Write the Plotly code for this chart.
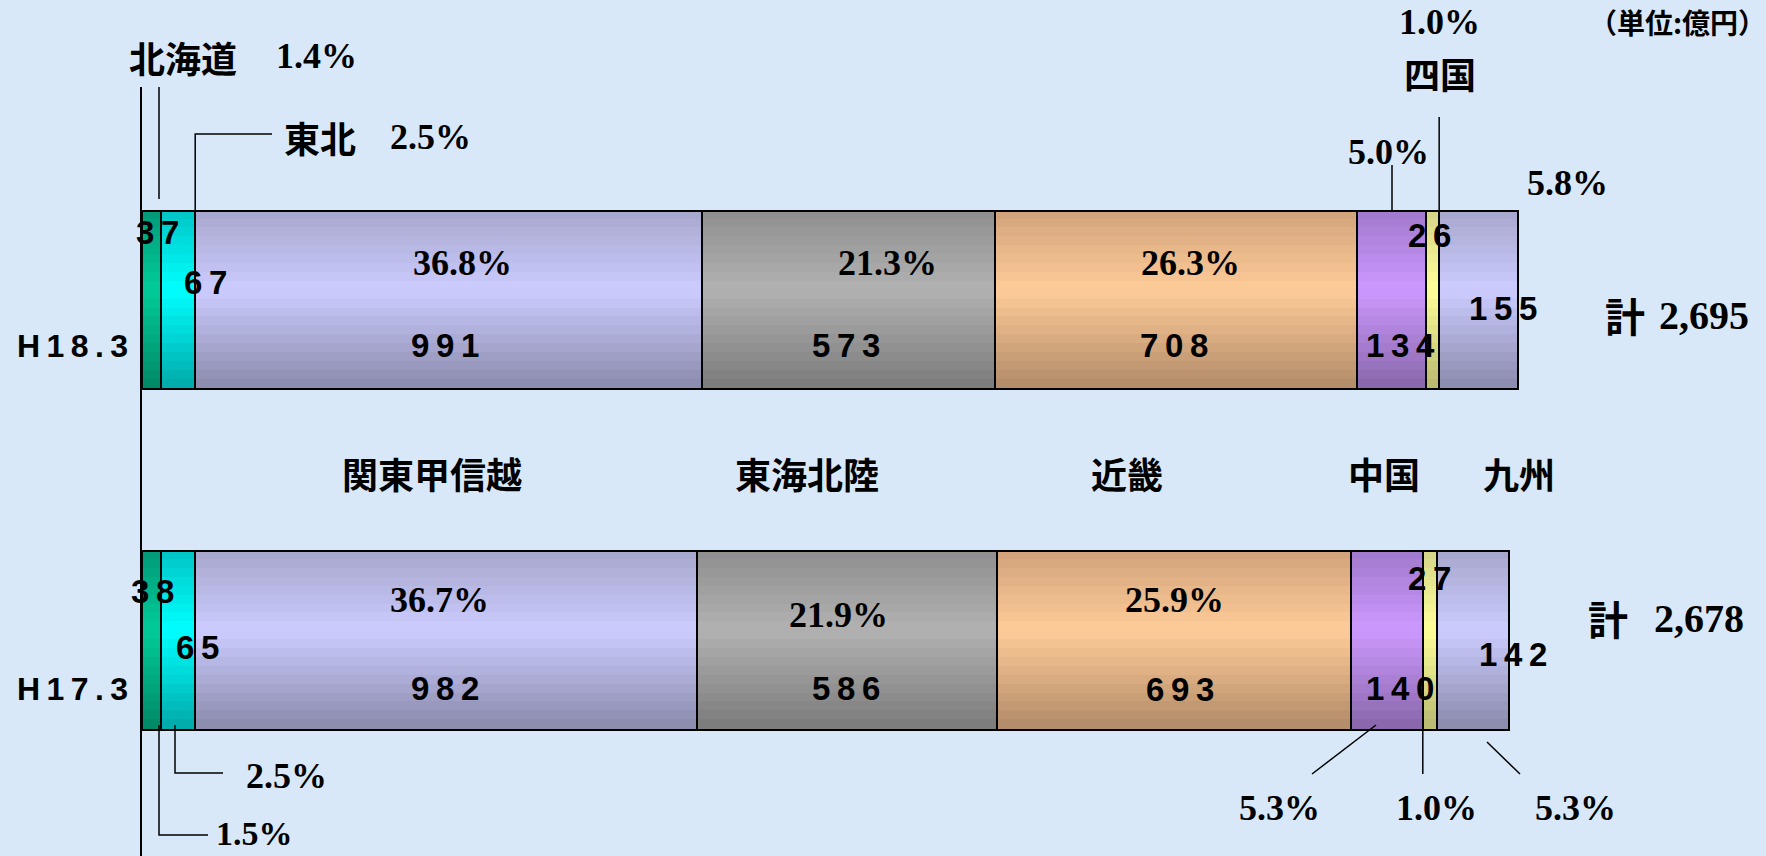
import plotly.graph_objects as go

# 地域別の金額(億円)と構成比
regions = ["北海道", "東北", "関東甲信越", "東海北陸", "近畿", "中国", "四国", "九州"]
years = ["H18.3", "H17.3"]
h18 = [37, 67, 991, 573, 708, 134, 26, 155]
h17 = [38, 65, 982, 586, 693, 140, 27, 142]
pct18 = ["1.4%", "2.5%", "36.8%", "21.3%", "26.3%", "5.0%", "1.0%", "5.8%"]
pct17 = ["1.5%", "2.5%", "36.7%", "21.9%", "25.9%", "5.3%", "1.0%", "5.3%"]
totals = ["2,695", "2,678"]
unit_label = "（単位:億円）"

# bar colours: top, middle, bottom (gradient like the original)
shades = [
    ("#009977", "#00cc99", "#008866"),
    ("#00c4c4", "#00ffff", "#00a8a8"),
    ("#a6a6cc", "#ccccff", "#8a8aac"),
    ("#8e8e8e", "#b2b2b2", "#7a7a7a"),
    ("#d0a27a", "#ffcc99", "#b08a68"),
    ("#a078cc", "#cc99ff", "#8866aa"),
    ("#d4d488", "#ffff99", "#b8b870"),
    ("#a6a6cc", "#ccccff", "#8a8aac"),
]

BG = "#d8e8f8"
CJK = "Noto Sans CJK JP"
SERIF = "Liberation Serif"
SANS = "Liberation Sans"

W, H = 1766, 856
ML, MT = 142, 87
XS = 0.5115          # pixels per 億円
Y18_PX, DY = 300.0, 340.5
BW = 0.523           # bar thickness in y units


def cum(vals):
    out, s = [], 0
    for v in vals:
        out.append(s)
        s += v
    return out


base18 = cum(h18)
base17 = cum(h17)
ypos = [1, 0]


def hex2rgb(h):
    h = h.lstrip("#")
    return [int(h[i:i + 2], 16) for i in (0, 2, 4)]


def shade(c, t):
    top, mid, bot = [hex2rgb(x) for x in c]
    if t < 0.45:
        a, b, f = top, mid, t / 0.45
    else:
        a, b, f = mid, bot, (t - 0.45) / 0.55
    return "rgb(%d,%d,%d)" % tuple(round(a[i] + (b[i] - a[i]) * f) for i in range(3))


fig = go.Figure()

ys = [ypos[0]] * len(h18) + [ypos[1]] * len(h17)
xs = h18 + h17
bases = base18 + base17

N = 20
for k in range(N):
    t = (k + 0.5) / N
    cols = [shade(c, t) for c in shades] * 2
    fig.add_trace(go.Bar(
        orientation="h", y=ys, x=xs, base=bases,
        width=BW / N * 1.15, offset=BW / 2 - (k + 1) * BW / N,
        marker=dict(color=cols, line=dict(width=0)),
        hoverinfo="skip", showlegend=False,
    ))

# outline
fig.add_trace(go.Bar(
    orientation="h", y=ys, x=xs, base=bases, width=BW,
    marker=dict(color="rgba(0,0,0,0)", line=dict(color="black", width=2)),
    hoverinfo="skip", showlegend=False,
))


def dx(px):
    return (px - ML) / XS


def dy(py):
    return 1 - (py - Y18_PX) / DY


def txt(s, px, py, family, size):
    # paper coords so labels outside the plot area are still drawn
    fig.add_annotation(x=(px - ML) / (W - ML), y=1 - (py - MT) / (H - MT),
                       xref="paper", yref="paper", text="<b>" + s + "</b>",
                       showarrow=False, xanchor="center", yanchor="middle",
                       font=dict(family=family, size=size, color="black"))


def spaced(s, sp="\u2009"):
    return sp.join(s)


# year labels
txt(spaced(years[0]), 72, 346, SANS, 32)
txt(spaced(years[1]), 72, 689, SANS, 32)

# values inside bars
val_pos18 = [(157, 232), (205, 282), (445, 345), (846, 345), (1174, 345), (1400, 345), (1429, 235), (1503, 308)]
val_pos17 = [(152, 591), (197, 647), (445, 688), (846, 688), (1180, 689), (1400, 688), (1429, 578), (1513, 654)]
for v, p in zip(h18, val_pos18):
    txt(spaced(str(v)), p[0], p[1], SANS, 33)
for v, p in zip(h17, val_pos17):
    txt(spaced(str(v)), p[0], p[1], SANS, 33)

# percentages inside big segments
in18 = {2: (462, 263), 3: (887, 263), 4: (1190, 263)}
in17 = {2: (439, 600), 3: (838, 615), 4: (1174, 600)}
for i, p in in18.items():
    txt(pct18[i], p[0], p[1], SERIF, 36)
for i, p in in17.items():
    txt(pct17[i], p[0], p[1], SERIF, 36)

# outside labels, top row (H18.3)
txt(regions[0], 183, 57, CJK, 36)
txt(pct18[0], 316, 56, SERIF, 36)
txt(regions[1], 320, 137, CJK, 36)
txt(pct18[1], 430, 137, SERIF, 36)
txt(pct18[6], 1439, 22, SERIF, 36)
txt(regions[6], 1440, 73, CJK, 36)
txt(pct18[5], 1388, 152, SERIF, 36)
txt(pct18[7], 1567, 183, SERIF, 36)
txt(unit_label, 1677, 22, CJK, 28)

# outside labels, bottom row (H17.3)
txt(pct17[1], 286, 776, SERIF, 36)
txt(pct17[0], 254, 833, SERIF, 34)
txt(pct17[5], 1279, 808, SERIF, 36)
txt(pct17[6], 1436, 808, SERIF, 36)
txt(pct17[7], 1575, 808, SERIF, 36)

# region names between the bars
mid_pos = {2: 432, 3: 807, 4: 1127, 5: 1384, 7: 1519}
for i, px in mid_pos.items():
    txt(regions[i], px, 473, CJK, 36)

# totals
txt("計", 1625, 315, CJK, 40)
txt(totals[0], 1704, 315, SERIF, 40)
txt("計", 1608, 618, CJK, 40)
txt(totals[1], 1699, 618, SERIF, 40)

# leader lines
top18 = ypos[0] + BW / 2


def leader(pts, width=1.5):
    path = "M " + " L ".join("%f,%f" % p for p in pts)
    fig.add_shape(type="path", path=path, xref="x", yref="y",
                  line=dict(color="black", width=width))


leader([(dx(159), dy(85)), (dx(159), dy(199))])
leader([(base18[2], top18), (base18[2], dy(134)), (dx(272), dy(134))])
leader([(dx(1392), dy(165)), (dx(1392), top18)])
leader([(base18[7], dy(117)), (base18[7], top18)])
leader([(dx(175), dy(725)), (dx(175), dy(773)), (dx(223), dy(773))])
leader([(dx(159), dy(725)), (dx(159), dy(835)), (dx(208), dy(835))])
leader([(dx(1376), dy(725)), (dx(1312), dy(774))])
leader([(base17[6], dy(725)), (base17[6], dy(774))])
leader([(dx(1487), dy(742)), (dx(1520), dy(774))])

plot_h = H - MT
r1 = 1 + (Y18_PX - MT) / DY
r0 = r1 - plot_h / DY

fig.update_layout(
    width=W, height=H,
    margin=dict(l=ML, r=0, t=MT, b=0, pad=0),
    paper_bgcolor=BG, plot_bgcolor=BG,
    barmode="overlay", bargap=0,
    showlegend=False,
    xaxis=dict(range=[0, (W - ML) / XS], visible=False, fixedrange=True),
    yaxis=dict(range=[r0, r1], showline=True, linecolor="black", linewidth=2,
               showgrid=False, zeroline=False, showticklabels=False, ticks="",
               fixedrange=True),
)

# page body has an 8px default margin; drop it so the figure fills the window
fig.write_html("out.html", config={"displayModeBar": False},
               post_script="document.body.style.margin='0';")
